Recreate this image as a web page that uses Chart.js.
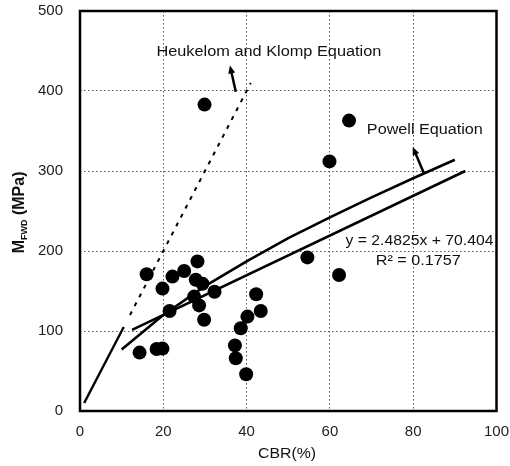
<!DOCTYPE html>
<html>
<head>
<meta charset="utf-8">
<script src="https://cdn.jsdelivr.net/npm/chart.js@4.4.1/dist/chart.umd.min.js"></script>
<style>
  body { margin: 0; background: #fff; }
  canvas { display: block; }
</style>
</head>
<body>
<canvas id="chart" width="510" height="466"></canvas>
<script>
// measured points, CBR (%) vs M_FWD (MPa)
const cbr  = [29.9, 64.6, 59.9, 54.6, 62.2, 16.0, 19.8, 22.2, 25.0, 28.2, 27.8, 29.4, 32.3, 27.4,
              28.6, 21.5, 29.8, 14.3, 18.4, 19.8, 42.3, 43.4, 40.2, 38.6, 37.2, 37.4, 39.9];
const mfwd = [383, 363, 312, 192, 170, 171, 153, 168, 175, 187, 164, 159, 149, 143,
              132, 125, 114, 73, 77.5, 78, 146, 125, 118, 103.5, 82, 66, 46];

// regression line y = 2.4825x + 70.404 (ends as drawn)
const regX = [12.5, 92.5];
const regY = [101.4, 300.0];

// Powell equation curve
const powellX = [10, 20, 30, 40, 50, 60, 70, 80, 90];
const powellY = [77, 120, 156, 187, 216, 242, 267, 291, 314];

// Heukelom and Klomp equation: solid part, then dotted part
const hkSolidX = [1, 10.5];
const hkSolidY = [10, 105];
const hkDotX = [12, 41];
const hkDotY = [120, 410];

// arrows: [base, tip]
const hkArrowX = [37.4, 36.0];
const hkArrowY = [399, 432];
const powellArrowX = [82.6, 79.9];
const powellArrowY = [297, 330];

const xTicks = [0, 20, 40, 60, 80, 100];
const yTicks = [0, 100, 200, 300, 400, 500];

const FONT = '"Liberation Sans", Arial, sans-serif';
const toXY = (xs, ys) => xs.map((x, i) => ({ x, y: ys[i] }));

const lineSet = (xs, ys, extra) => Object.assign({
  data: toXY(xs, ys),
  showLine: true,
  pointRadius: 0,
  borderColor: '#000',
  borderWidth: 2.6,
  tension: 0
}, extra);

const overlay = {
  id: 'overlay',
  afterDraw(chart) {
    const ctx = chart.ctx;
    const xs = chart.scales.x, ys = chart.scales.y;
    const a = chart.chartArea;
    const px = v => xs.getPixelForValue(v);
    const py = v => ys.getPixelForValue(v);

    // frame
    ctx.save();
    ctx.strokeStyle = '#000';
    ctx.lineWidth = 2.5;
    ctx.strokeRect(a.left, a.top, a.right - a.left, a.bottom - a.top);
    ctx.restore();

    // arrows
    function arrow(ax, ay) {
      const x0 = px(ax[0]), y0 = py(ay[0]), x1 = px(ax[1]), y1 = py(ay[1]);
      const ang = Math.atan2(y1 - y0, x1 - x0);
      ctx.save();
      ctx.strokeStyle = '#000';
      ctx.fillStyle = '#000';
      ctx.lineWidth = 2.5;
      ctx.beginPath();
      ctx.moveTo(x0, y0);
      ctx.lineTo(x1 - 5 * Math.cos(ang), y1 - 5 * Math.sin(ang));
      ctx.stroke();
      ctx.beginPath();
      ctx.moveTo(x1, y1);
      ctx.lineTo(x1 - 8 * Math.cos(ang) + 3.5 * Math.sin(ang), y1 - 8 * Math.sin(ang) - 3.5 * Math.cos(ang));
      ctx.lineTo(x1 - 8 * Math.cos(ang) - 3.5 * Math.sin(ang), y1 - 8 * Math.sin(ang) + 3.5 * Math.cos(ang));
      ctx.closePath();
      ctx.fill();
      ctx.restore();
    }
    arrow(hkArrowX, hkArrowY);
    arrow(powellArrowX, powellArrowY);

    // text squeezed/stretched to the width seen in the picture
    function fitText(txt, cx, cy, w, size) {
      ctx.save();
      ctx.font = size + 'px ' + FONT;
      const m = ctx.measureText(txt).width;
      ctx.translate(cx, cy);
      ctx.scale(w / m, 1);
      ctx.fillStyle = '#111';
      ctx.textAlign = 'center';
      ctx.textBaseline = 'middle';
      ctx.fillText(txt, 0, 0);
      ctx.restore();
    }
    fitText('Heukelom and Klomp Equation', px(45.35), py(448), 225, 14);
    fitText('Powell Equation', px(82.8), py(351), 116, 14);
    fitText('y = 2.4825x + 70.404', px(81.5), py(212), 148, 14.5);
    fitText('R\u00b2 = 0.1757', px(81.2), py(188), 85, 14.5);

    // axis titles
    fitText('CBR(%)', px(49.7), a.bottom + 43, 58, 15);

    ctx.save();
    ctx.translate(18, py(249));
    ctx.rotate(-Math.PI / 2);
    ctx.fillStyle = '#111';
    ctx.textBaseline = 'alphabetic';
    ctx.textAlign = 'left';
    const parts = [['M', 'bold 16px ', 0], ['FWD', 'bold 9px ', 3], [' (MPa)', 'bold 16px ', 0]];
    let off = -41.5;
    const base = 6;
    for (const [t, f, dy] of parts) {
      ctx.font = f + FONT;
      ctx.fillText(t, off, base + dy);
      off += ctx.measureText(t).width;
    }
    ctx.restore();
  }
};

new Chart(document.getElementById('chart'), {
  type: 'scatter',
  data: {
    datasets: [
      {
        data: toXY(cbr, mfwd),
        pointRadius: 7,
        pointHoverRadius: 7,
        pointBackgroundColor: '#000',
        pointBorderColor: '#000',
        pointBorderWidth: 0
      },
      lineSet(regX, regY),
      lineSet(powellX, powellY),
      lineSet(hkSolidX, hkSolidY, { borderWidth: 2.4 }),
      lineSet(hkDotX, hkDotY, { borderWidth: 2, borderDash: [4, 6] })
    ]
  },
  options: {
    responsive: false,
    animation: false,
    events: [],
    layout: { padding: { top: 11, right: 13.5, left: 0, bottom: 0 } },
    plugins: { legend: { display: false }, tooltip: { enabled: false } },
    scales: {
      x: {
        type: 'linear',
        min: 0, max: 100,
        afterFit: s => { s.height = 55; },
        afterBuildTicks: s => { s.ticks = xTicks.map(v => ({ value: v })); },
        ticks: { color: '#222', padding: 0, font: { family: FONT, size: 15 } },
        grid: { color: '#555', lineWidth: 1, drawTicks: true, tickLength: 12, tickColor: 'rgba(0,0,0,0)' },
        border: { display: false, dash: [1.5, 2.5] }
      },
      y: {
        type: 'linear',
        min: 0, max: 500,
        afterFit: s => { s.width = 80; },
        afterBuildTicks: s => { s.ticks = yTicks.map(v => ({ value: v })); },
        ticks: { color: '#222', padding: 0, font: { family: FONT, size: 15 } },
        grid: { color: '#555', lineWidth: 1, drawTicks: true, tickLength: 17, tickColor: 'rgba(0,0,0,0)' },
        border: { display: false, dash: [1.5, 2.5] }
      }
    }
  },
  plugins: [overlay]
});
</script>
</body>
</html>
